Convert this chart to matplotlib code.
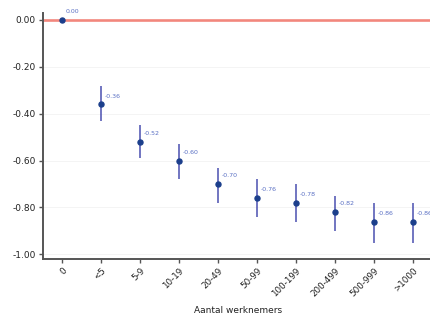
import numpy as np
import matplotlib
matplotlib.use("Agg")
import matplotlib.pyplot as plt

# data
categories = ['0', '<5', '5-9', '10-19', '20-49', '50-99', '100-199', '200-499', '500-999', '>1000']
coef = [0.00, -0.36, -0.52, -0.60, -0.70, -0.76, -0.78, -0.82, -0.86, -0.86]
ci_low = [0.00, -0.43, -0.59, -0.68, -0.78, -0.84, -0.86, -0.90, -0.95, -0.95]
ci_high = [0.00, -0.28, -0.45, -0.53, -0.63, -0.68, -0.70, -0.75, -0.78, -0.78]
yticks = [0.0, -0.2, -0.4, -0.6, -0.8, -1.0]

x = np.arange(len(categories))
coef = np.array(coef)
err = [coef - np.array(ci_low), np.array(ci_high) - coef]

fig = plt.figure(figsize=(4.30, 3.21), dpi=100)
ax = fig.add_axes([0.099, 0.193, 0.907, 0.767])

ax.axhline(0, color='#f2877d', lw=1.9, zorder=1)
ax.errorbar(x, coef, yerr=err, fmt='none', ecolor='#4a4fb0', elinewidth=1.1, zorder=2)
ax.plot(x, coef, 'o', color='#1c3f8c', ms=3.6, zorder=3)

# value labels next to each point (the last one runs off the edge, as in the original)
for xi, v in zip(x, coef):
    ax.text(xi + 0.1, v + 0.035, '%.2f' % v, fontsize=4.5, color='#5a70c4', va='center', ha='left')

ax.set_xlim(-0.5, 9.5)
ax.set_ylim(-1.02, 0.03)
ax.set_yticks(yticks)
ax.set_yticklabels(['%.2f' % t for t in yticks], fontsize=6.5, color='#222222')
ax.set_xticks(x)
ax.set_xticklabels(categories, rotation=45, ha='right', rotation_mode='anchor', fontsize=6.3, color='#222222')
ax.set_xlabel('Aantal werknemers', fontsize=6.5, color='#222222', labelpad=6)

for t in yticks:
    ax.axhline(t, color='#f3f3f3', lw=0.6, zorder=0)

ax.spines['top'].set_visible(False)
ax.spines['right'].set_visible(False)
ax.spines['left'].set_color('#555555')
ax.spines['bottom'].set_color('#555555')
ax.spines['left'].set_linewidth(1.4)
ax.spines['bottom'].set_linewidth(1.4)
ax.tick_params(axis='both', length=3, width=1, color='#555555', pad=2)

fig.savefig('out.png', dpi=100)
